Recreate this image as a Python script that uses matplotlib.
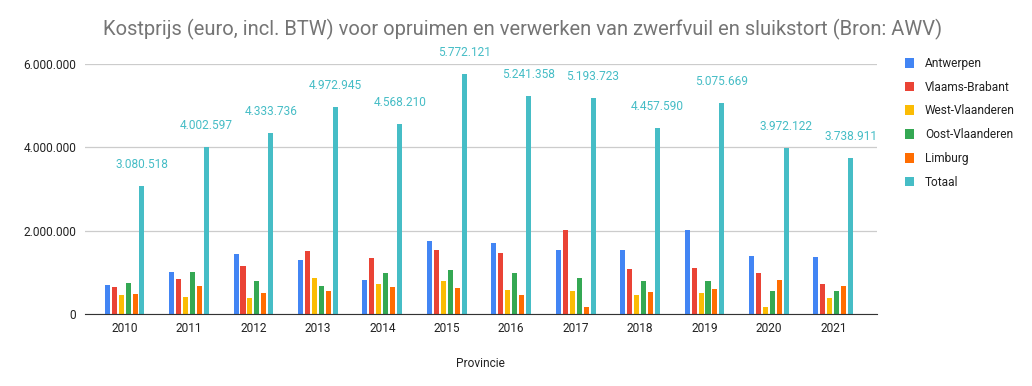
import matplotlib

matplotlib.use("Agg")
import matplotlib.pyplot as plt
import numpy as np
from matplotlib.ticker import FuncFormatter

plt.rcParams["font.family"] = ["Roboto", "DejaVu Sans"]

YEARS = ["2010", "2011", "2012", "2013", "2014", "2015",
         "2016", "2017", "2018", "2019", "2020", "2021"]
SERIES = ["Antwerpen", "Vlaams-Brabant", "West-Vlaanderen",
          "Oost-Vlaanderen", "Limburg", "Totaal"]
COLORS = ["#4285F4", "#EA4335", "#FBBC04", "#34A853", "#FF6D01", "#46BDC6"]

# values in euro (provinces, totals as labelled)
ANTWERPEN = [700000, 1010000, 1440000, 1290000, 820000, 1750000,
             1700000, 1530000, 1530000, 2010000, 1390000, 1370000]
VL_BRABANT = [640000, 840000, 1150000, 1510000, 1340000, 1530000,
              1460000, 2010000, 1080000, 1100000, 980000, 720000]
W_VLAANDEREN = [460000, 410000, 390000, 870000, 720000, 800000,
                580000, 560000, 460000, 510000, 170000, 390000]
O_VLAANDEREN = [750000, 1010000, 790000, 670000, 980000, 1060000,
                980000, 870000, 790000, 790000, 560000, 560000]
LIMBURG = [480000, 670000, 510000, 560000, 650000, 630000,
           460000, 170000, 530000, 600000, 820000, 670000]
TOTAAL = [3080518, 4002597, 4333736, 4972945, 4568210, 5772121,
          5241358, 5193723, 4457590, 5075669, 3972122, 3738911]


def dots(v, _=None):
    return f"{v:,.0f}".replace(",", ".")


def main():
    data = [ANTWERPEN, VL_BRABANT, W_VLAANDEREN, O_VLAANDEREN, LIMBURG, TOTAAL]
    fig = plt.figure(figsize=(10.32, 3.86), dpi=100)
    ax = fig.add_axes([0.082, 0.187, 0.768, 0.647])

    x = np.arange(len(YEARS))
    pitch, width = 0.108, 0.078
    offs = (np.arange(len(SERIES)) - (len(SERIES) - 1) / 2) * pitch
    for vals, name, col, off in zip(data, SERIES, COLORS, offs):
        ax.bar(x + off, vals, width=width, color=col, label=name, zorder=3)

    for xi, v in zip(x + offs[-1], TOTAAL):
        ax.text(xi, v + 360000, dots(v), ha="center", va="bottom",
                fontsize=8.6, color="#46BDC6", clip_on=False)

    ax.set_xlim(-0.62, len(YEARS) - 1 + 0.68)
    ax.set_ylim(0, 6000000)
    ax.set_yticks([0, 2000000, 4000000, 6000000])
    ax.yaxis.set_major_formatter(FuncFormatter(lambda v, _: "0" if v == 0 else dots(v)))
    ax.set_xticks(x)
    ax.set_xticklabels(YEARS)
    ax.tick_params(axis="both", length=0, labelsize=8.6, colors="#222222", pad=6)
    ax.grid(axis="y", color="#cccccc", lw=0.9, zorder=0)
    for s in ["top", "right", "left"]:
        ax.spines[s].set_visible(False)
    ax.spines["bottom"].set_color("#333333")
    ax.spines["bottom"].set_zorder(4)
    ax.set_xlabel("Provincie", fontsize=8.6, color="#222222", labelpad=16)

    ax.legend(loc="upper left", bbox_to_anchor=(1.022, 1.072), frameon=False,
              fontsize=8.6, handlelength=0.75, handleheight=0.9,
              handletextpad=0.9, labelspacing=0.9, labelcolor="#222222")

    fig.suptitle("Kostprijs (euro, incl. BTW) voor opruimen en verwerken van zwerfvuil "
                 "en sluikstort (Bron: AWV)", x=0.506, y=0.952, fontsize=14.5,
                 color="#757575")
    fig.savefig("out.png", dpi=100)


if __name__ == "__main__":
    main()
